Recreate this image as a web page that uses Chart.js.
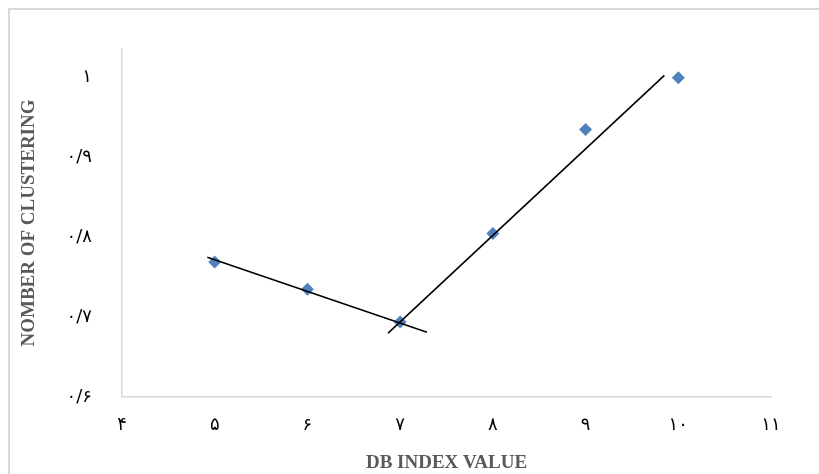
<!DOCTYPE html>
<html>
<head>
<meta charset="utf-8">
<script src="https://cdn.jsdelivr.net/npm/chart.js@4.4.1/dist/chart.umd.min.js"></script>
<style>
  html, body { margin: 0; padding: 0; background: #fff; }
  #wrap { position: relative; width: 819px; height: 474px; overflow: hidden; }
  #frame { position: absolute; left: 8px; top: 8px; right: -2px; bottom: -2px; border-left: 2px solid #d9d9d9; border-top: 2px solid #d9d9d9; }
  canvas { position: absolute; left: 0; top: 0; }
</style>
</head>
<body>
<div id="wrap">
  <div id="frame"></div>
  <canvas id="myChart" width="819" height="474"></canvas>
</div>
<script>
// points
var xValues = [5, 6, 7, 8, 9, 10];
var yValues = [0.769, 0.735, 0.694, 0.805, 0.935, 1.0];

// the two hand drawn trend lines (end points)
var line1X = [4.92, 7.29];
var line1Y = [0.775, 0.681];
var line2X = [6.87, 9.85];
var line2Y = [0.680, 1.003];

var xTicks = [4, 5, 6, 7, 8, 9, 10, 11];
var yTicks = [0.6, 0.7, 0.8, 0.9, 1.0];

var faDigits = ["۰", "۱", "۲", "۳", "۴", "۵", "۶", "۷", "۸", "۹"];
function toFa(v) {
    var s = String(Math.round(v * 10) / 10).replace(".", "/");
    return s.replace(/[0-9]/g, function (d) { return faDigits[+d]; });
}

function pts(xs, ys) {
    var out = [];
    for (let i = 0; i < xs.length; i++) {
        out.push({ x: xs[i], y: ys[i] });
    }
    return out;
}

var axisColor = "#d9d9d9";
var titleFont = { family: "'Liberation Serif', serif", size: 19, weight: "bold" };
var tickFont = { family: "'DejaVu Sans', sans-serif", size: 18 };

new Chart("myChart", {
    type: "scatter",
    data: {
        datasets: [{
            data: pts(xValues, yValues),
            pointStyle: "rectRot",
            pointRadius: 6.5,
            backgroundColor: "#4F81BD",
            borderColor: "#4F81BD",
            borderWidth: 0,
            order: 2
        }, {
            type: "line",
            data: pts(line1X, line1Y),
            borderColor: "#000",
            borderWidth: 1.6,
            pointRadius: 0,
            fill: false,
            order: 1
        }, {
            type: "line",
            data: pts(line2X, line2Y),
            borderColor: "#000",
            borderWidth: 1.6,
            pointRadius: 0,
            fill: false,
            order: 1
        }]
    },
    options: {
        responsive: false,
        animation: false,
        layout: { padding: { left: 0, top: 49, right: 48, bottom: 0 } },
        plugins: {
            legend: { display: false },
            tooltip: { enabled: false }
        },
        scales: {
            x: {
                type: "linear",
                min: 4,
                max: 11,
                afterBuildTicks: function (scale) {
                    scale.ticks = xTicks.map(function (v) { return { value: v }; });
                },
                afterFit: function (scale) { scale.height = 77; },
                grid: { display: false, drawTicks: false },
                border: { color: axisColor, width: 1.5 },
                ticks: {
                    padding: 18,
                    color: "#000",
                    font: tickFont,
                    callback: function (v) { return toFa(v); }
                },
                title: {
                    display: true,
                    text: "DB INDEX VALUE",
                    color: "#595959",
                    font: titleFont,
                    padding: { top: 0, bottom: 0 }
                }
            },
            y: {
                min: 0.6,
                max: 1.036,
                afterBuildTicks: function (scale) {
                    scale.ticks = yTicks.map(function (v) { return { value: v }; });
                },
                afterFit: function (scale) { scale.width = 122; },
                grid: { display: false, drawTicks: false },
                border: { color: axisColor, width: 1.5 },
                ticks: {
                    padding: 30,
                    color: "#000",
                    font: tickFont,
                    callback: function (v) { return toFa(v); }
                },
                title: {
                    display: true,
                    text: "NOMBER OF CLUSTERING",
                    color: "#595959",
                    font: titleFont,
                    padding: { top: 18, bottom: 0 }
                }
            }
        }
    }
});
</script>
</body>
</html>
